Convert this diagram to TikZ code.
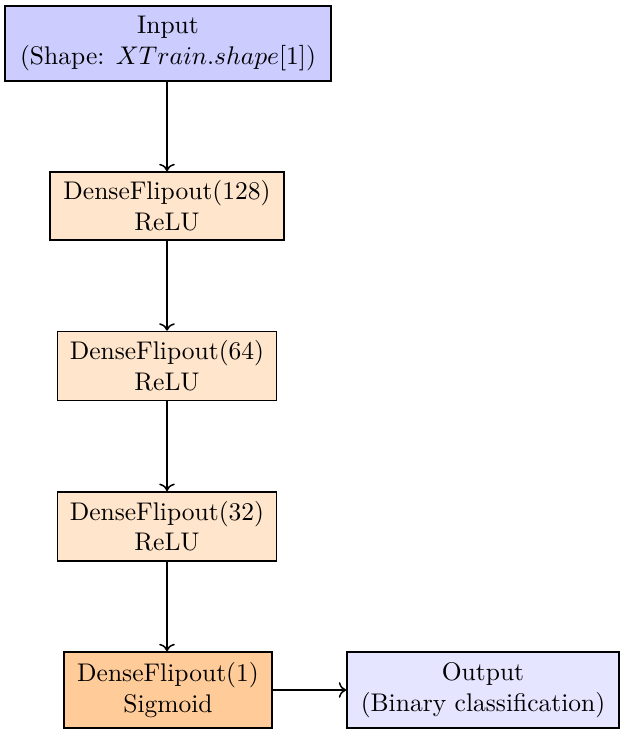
\documentclass[tikz,border=0pt]{standalone}
\usetikzlibrary{arrows.meta}
\begin{document}
\begin{tikzpicture}[x=0.392pt,y=-0.392pt,
  box/.style={draw=black,line width=0.6pt,align=center,inner sep=0pt},
  inbox/.style={box,fill=blue!20},
  densebox/.style={box,fill=orange!20},
  lastbox/.style={box,fill=orange!40},
  outbox/.style={box,fill=blue!10},
  conn/.style={->,line width=0.6pt}]
\useasboundingbox (0,0) rectangle (624,733);
\node[inbox,minimum width=326*0.392pt,minimum height=75*0.392pt] (in) at (168,43.5) {Input\\(Shape: $XTrain.shape[1]$)};
\node[densebox,minimum width=234*0.392pt,minimum height=68*0.392pt] (d128) at (167,206) {DenseFlipout(128)\\ReLU};
\node[densebox,minimum width=219*0.392pt,minimum height=69*0.392pt] (d64) at (167,366) {DenseFlipout(64)\\ReLU};
\node[densebox,minimum width=219*0.392pt,minimum height=69*0.392pt] (d32) at (167,526.3) {DenseFlipout(32)\\ReLU};
\node[lastbox,minimum width=208*0.392pt,minimum height=76*0.392pt] (d1) at (168,690) {DenseFlipout(1)\\Sigmoid};
\node[outbox,minimum width=272*0.392pt,minimum height=76*0.392pt] (out) at (483,690) {Output\\(Binary classification)};
\draw[conn] (in.south -| d128.north) -- (d128.north);
\draw[conn] (d128) -- (d64);
\draw[conn] (d64) -- (d32);
\draw[conn] (d32.south) -- (d32.south |- d1.north);
\draw[conn] (d1) -- (out);
\end{tikzpicture}
\end{document}
